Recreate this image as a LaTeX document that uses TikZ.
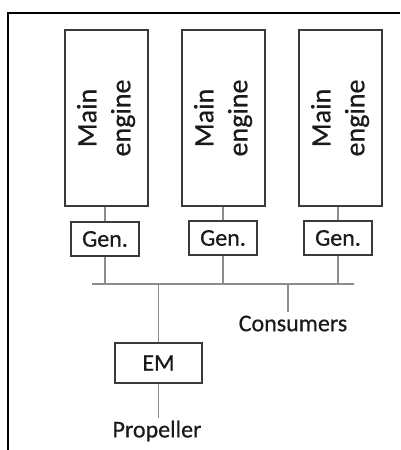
\documentclass[tikz,border=0pt]{standalone}
\usepackage{fontspec}
\usepackage{graphicx}
\setmainfont{Carlito}[FakeBold=0.6]
\definecolor{boxline}{HTML}{3A3A3A}
\definecolor{wire}{HTML}{8C8C8C}
\definecolor{ink}{HTML}{1A1A1A}
\begin{document}
\begin{tikzpicture}[x=1pt, y=-1pt,
    engine/.style={draw=boxline, line width=1.6pt, minimum width=83pt, minimum height=176pt, inner sep=0pt, text=ink},
    genbox/.style={draw=boxline, line width=1.6pt, minimum width=68pt, minimum height=34pt, inner sep=0pt, text=ink, font=\fontsize{24}{29}\selectfont},
    wire/.style={draw=wire, line width=1.3pt},
    tag/.style={text=ink, inner sep=3pt, font=\fontsize{24}{29}\selectfont}]
    \useasboundingbox (0,0) rectangle (400,450);
    % Rahmen (nur oben und links sichtbar)
    \draw[black, line width=2pt] (400,13) -- (8,13) -- (8,450);

    % Hauptmaschinen
    \node[engine] (eng1) at (106.5,118) {\rotatebox{90}{\fontsize{28}{34}\selectfont\begin{tabular}{@{}c@{}}Main\\engine\end{tabular}}};
    \node[engine] (eng2) at (223.5,118) {\rotatebox{90}{\fontsize{28}{34}\selectfont\begin{tabular}{@{}c@{}}Main\\engine\end{tabular}}};
    \node[engine] (eng3) at (340.5,118) {\rotatebox{90}{\fontsize{28}{34}\selectfont\begin{tabular}{@{}c@{}}Main\\engine\end{tabular}}};

    % Generatoren
    \node[genbox] (gen1) at (105,239) {Gen.};
    \node[genbox] (gen2) at (223,238) {Gen.};
    \node[genbox] (gen3) at (338,238) {Gen.};

    % Sammelschiene
    \coordinate (busL) at (92,284);
    \coordinate (busR) at (354,284);
    \coordinate (tap) at (288,284);
    \draw[wire] (busL) -- (busR);

    % Elektromotor, Propeller und Verbraucher
    \node[genbox, minimum width=87pt, minimum height=40pt] (em) at (158.5,363) {EM};
    \node[tag] (prop) at (157,431) {Propeller};
    \node[tag] (cons) at (293,323.5) {Consumers};

    % Verbindungen
    \draw[wire] (eng1.south -| gen1.north) -- (gen1.north);
    \draw[wire] (eng2.south -| gen2.north) -- (gen2.north);
    \draw[wire] (eng3.south -| gen3.north) -- (gen3.north);
    \draw[wire] (gen1.south) -- (gen1.south |- busL);
    \draw[wire] (gen2.south) -- (gen2.south |- busL);
    \draw[wire] (gen3.south) -- (gen3.south |- busL);
    \draw[wire] (em.north |- busL) -- (em.north);
    \draw[wire] (em.south) -- (em.south |- prop.north);
    \draw[wire] (tap) -- (tap |- cons.north);
\end{tikzpicture}
\end{document}
